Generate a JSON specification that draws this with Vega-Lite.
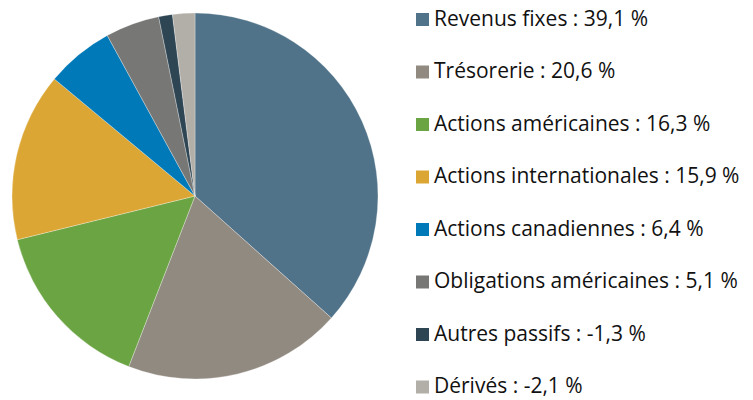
{
  "$schema": "https://vega.github.io/schema/vega-lite/v6.json",
  "autosize": "none",
  "width": 390,
  "height": 392,
  "padding": {"left": 0, "top": 0, "right": 363, "bottom": 8},
  "background": "white",
  "data": {
    "values": [
      {"label": "Revenus fixes : 39,1 %", "value": 39.1, "order": 1},
      {"label": "Trésorerie : 20,6 %", "value": 20.6, "order": 2},
      {"label": "Actions américaines : 16,3 %", "value": 16.3, "order": 3},
      {"label": "Actions internationales : 15,9 %", "value": 15.9, "order": 4},
      {"label": "Actions canadiennes : 6,4 %", "value": 6.4, "order": 5},
      {"label": "Obligations américaines : 5,1 %", "value": 5.1, "order": 6},
      {"label": "Autres passifs : -1,3 %", "value": 1.3, "order": 7},
      {"label": "Dérivés : -2,1 %", "value": 2.1, "order": 8}
    ]
  },
  "mark": {"type": "arc", "outerRadius": 183, "stroke": "white", "strokeWidth": 0.3},
  "encoding": {
    "theta": {"field": "value", "type": "quantitative", "stack": true},
    "order": {"field": "order", "type": "quantitative"},
    "color": {
      "field": "label",
      "type": "nominal",
      "scale": {
        "domain": [
          "Revenus fixes : 39,1 %",
          "Trésorerie : 20,6 %",
          "Actions américaines : 16,3 %",
          "Actions internationales : 15,9 %",
          "Actions canadiennes : 6,4 %",
          "Obligations américaines : 5,1 %",
          "Autres passifs : -1,3 %",
          "Dérivés : -2,1 %"
        ],
        "range": ["#507389", "#918A80", "#6BA443", "#DBA633", "#0079B8", "#777775", "#2E4553", "#B2AEA8"]
      },
      "legend": {
        "title": null,
        "orient": "none",
        "legendX": 412,
        "legendY": 9,
        "symbolType": "square",
        "symbolSize": 169,
        "symbolStrokeWidth": 0,
        "labelFont": "Open Sans",
        "labelFontSize": 21,
        "labelColor": "#111111",
        "labelOffset": 1,
        "labelLimit": 400,
        "rowPadding": 30.5
      }
    }
  },
  "config": {"view": {"stroke": null}}
}
